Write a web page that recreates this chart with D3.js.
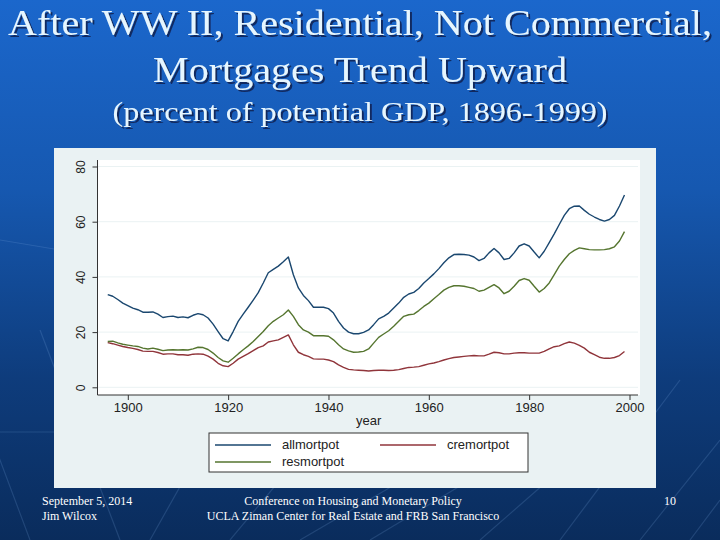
<!DOCTYPE html>
<html>
<head>
<meta charset="utf-8">
<script src="https://cdn.jsdelivr.net/npm/d3@7"></script>
<style>
  body { margin: 0; padding: 0; overflow: hidden; }
  svg { display: block; }
</style>
</head>
<body>
<div id="chart"></div>
<script>
// ---- data ----
var years = d3.range(1896, 2000);
var allmortpot = [33.6,33.0,31.8,30.5,29.6,28.7,28.1,27.2,27.2,27.3,26.5,25.3,25.6,25.8,25.3,25.5,25.2,26.1,26.7,26.3,
  25.1,22.9,20.2,17.6,16.8,20.2,23.9,26.5,29.0,31.6,34.3,37.8,41.5,42.7,43.9,45.5,47.2,40.8,36.0,33.3,
  31.4,29.0,29.0,29.0,28.5,26.9,23.9,21.5,20.0,19.4,19.4,19.9,20.8,22.7,24.8,25.7,26.9,28.7,30.5,32.6,
  33.8,34.4,35.8,37.8,39.4,41.1,43.0,45.1,46.9,48.1,48.2,48.1,47.9,47.2,45.9,46.7,48.7,50.3,48.7,46.3,
  46.7,48.7,51.2,52.0,51.2,49.0,46.9,49.3,52.4,55.6,59.0,62.3,64.7,65.6,65.7,64.1,62.7,61.7,60.8,60.2,
  60.8,62.3,65.7,69.7];
var cremortpot = [16.2,15.8,15.3,14.8,14.4,14.1,13.7,13.1,13.0,13.0,12.6,12.0,12.1,12.1,11.8,11.8,11.6,12.0,12.1,12.0,
  11.3,10.2,8.7,7.8,7.5,8.7,10.2,11.2,12.2,13.3,14.4,15.0,16.4,16.8,17.2,18.1,19.0,15.4,12.7,11.8,
  11.2,10.3,10.2,10.2,9.9,9.3,8.1,7.2,6.5,6.3,6.2,6.1,5.9,6.1,6.2,6.2,6.1,6.2,6.4,6.8,
  7.2,7.3,7.5,8.0,8.5,8.8,9.3,9.9,10.4,10.8,11.0,11.2,11.4,11.5,11.4,11.4,12.0,12.7,12.5,12.1,
  12.1,12.4,12.5,12.5,12.4,12.4,12.4,13.0,13.9,14.7,15.0,15.8,16.4,16.0,15.2,14.2,12.7,11.8,10.9,10.5,
  10.5,10.8,11.5,13.0];
var resmortpot = [16.6,16.7,16.1,15.6,15.3,15.0,14.8,14.2,13.9,14.2,13.8,13.3,13.5,13.6,13.5,13.6,13.5,13.9,14.5,14.4,
  13.7,12.4,10.8,9.6,9.1,10.5,12.1,13.6,15.0,16.6,18.4,20.2,22.3,23.9,25.1,26.3,28.0,25.7,22.7,20.8,
  20.0,18.7,18.7,18.7,18.5,17.2,15.4,13.9,13.2,12.7,12.8,13.0,13.9,16.0,18.1,19.3,20.5,22.1,23.9,25.7,
  26.3,26.5,27.8,29.3,30.5,32.1,33.6,35.2,36.2,36.8,36.8,36.6,36.2,35.8,34.8,35.2,36.2,37.2,36.0,33.9,
  34.8,36.6,38.7,39.4,38.8,36.6,34.5,35.8,37.8,40.8,43.9,46.3,48.4,49.6,50.5,50.2,49.9,49.8,49.8,49.9,
  50.2,50.9,53.0,56.4];
var seriesNames = ["allmortpot", "cremortpot", "resmortpot"];
var xTicks = [1900, 1920, 1940, 1960, 1980, 2000];
var yTicks = [0, 20, 40, 60, 80];
var titleLines = ["After WW II, Residential, Not Commercial,", "Mortgages Trend Upward"];
var subtitle = "(percent of potential GDP, 1896-1999)";
var footLeft = ["September 5, 2014", "Jim Wilcox"];
var footCenter = ["Conference on Housing and Monetary Policy", "UCLA Ziman Center for Real Estate and  FRB San Francisco"];
var pageNumber = "10";

var colors = {allmortpot: "#1a476f", cremortpot: "#90353b", resmortpot: "#55752f"};
var seriesData = {allmortpot: allmortpot, cremortpot: cremortpot, resmortpot: resmortpot};

var W = 720, H = 540;
var svg = d3.select("#chart").append("svg")
  .attr("width", W).attr("height", H);

// slide background
var defs = svg.append("defs");
var grad = defs.append("linearGradient").attr("id", "bg")
  .attr("x1", 0).attr("y1", 0).attr("x2", 0).attr("y2", 1);
grad.append("stop").attr("offset", "0%").attr("stop-color", "#1b67cc");
grad.append("stop").attr("offset", "35%").attr("stop-color", "#1658b0");
grad.append("stop").attr("offset", "70%").attr("stop-color", "#0e3c7c");
grad.append("stop").attr("offset", "100%").attr("stop-color", "#0a2c5c");
svg.append("rect").attr("width", W).attr("height", H).attr("fill", "url(#bg)");

var shadow = defs.append("filter").attr("id", "shadow")
  .attr("x", "-5%").attr("y", "-20%").attr("width", "110%").attr("height", "150%");
shadow.append("feDropShadow").attr("dx", 2).attr("dy", 2).attr("stdDeviation", 0.6)
  .attr("flood-color", "#0a2450").attr("flood-opacity", 0.85);

// faint diagonal streaks
var streaks = [[30,540,-60,300],[120,540,40,330],[150,540,240,380],[230,540,330,420],[300,540,420,470],
  [370,540,470,480],[480,540,560,470],[560,540,680,380],[640,540,720,440],[690,540,720,500],[0,432,60,432],[0,240,60,250]];
svg.append("g").selectAll("line").data(streaks).enter().append("line")
  .attr("x1", function(d){ return d[0]; }).attr("y1", function(d){ return d[1]; })
  .attr("x2", function(d){ return d[2]; }).attr("y2", function(d){ return d[3]; })
  .attr("stroke", "#7fa8e0").attr("stroke-opacity", 0.2).attr("stroke-width", 1.2);

// titles (the slide text is a little stretched horizontally)
var titleG = svg.append("g")
  .attr("font-family", "'Liberation Serif', 'Times New Roman', serif")
  .attr("text-anchor", "middle")
  .attr("fill", "#e6f6ff")
  .attr("filter", "url(#shadow)");
var titleWidths = [704, 414];
titleLines.forEach(function(t, i) {
  titleG.append("text").attr("x", 360).attr("y", 35 + i * 47)
    .attr("font-size", 36)
    .attr("textLength", titleWidths[i]).attr("lengthAdjust", "spacingAndGlyphs")
    .text(t);
});
titleG.append("text").attr("x", 360).attr("y", 121)
  .attr("font-size", 27)
  .attr("textLength", 495).attr("lengthAdjust", "spacingAndGlyphs")
  .text(subtitle);

// chart panel
var panel = {left: 54, top: 148, right: 656, bottom: 488};
svg.append("rect")
  .attr("x", panel.left).attr("y", panel.top)
  .attr("width", panel.right - panel.left).attr("height", panel.bottom - panel.top)
  .attr("fill", "#eaf2f3");

var plot = {left: 97.5, right: 640, top: 160, bottom: 395};
svg.append("rect")
  .attr("x", plot.left).attr("y", plot.top)
  .attr("width", plot.right - plot.left).attr("height", plot.bottom - plot.top)
  .attr("fill", "#ffffff");

var x = d3.scaleLinear().domain([1900, 2000]).range([127.8, 629.5]);
var y = d3.scaleLinear().domain([0, 80]).range([387.3, 166.5]);

// gridlines
svg.append("g").selectAll("line").data(yTicks).enter().append("line")
  .attr("x1", plot.left).attr("x2", plot.right - 2)
  .attr("y1", function(d){ return y(d); }).attr("y2", function(d){ return y(d); })
  .attr("stroke", "#eaf2f3").attr("stroke-width", 1);

// series lines
var line = d3.line()
  .x(function(d, i){ return x(years[i]); })
  .y(function(d){ return y(d); });
var drawOrder = ["cremortpot", "resmortpot", "allmortpot"];
svg.append("g").selectAll("path").data(drawOrder).enter().append("path")
  .attr("d", function(k){ return line(seriesData[k]); })
  .attr("fill", "none")
  .attr("stroke", function(k){ return colors[k]; })
  .attr("stroke-width", 1.4)
  .attr("stroke-linejoin", "round");

// axes
var yAxis = d3.axisLeft(y).tickValues(yTicks).tickSize(5).tickPadding(4).tickFormat(d3.format("d"));
var yg = svg.append("g").attr("transform", "translate(" + plot.left + ",0)").call(yAxis);
yg.select(".domain").attr("d", "M0," + plot.top + "V" + plot.bottom).attr("stroke", "#333");
yg.selectAll(".tick line").attr("stroke", "#333");
yg.selectAll(".tick text")
  .attr("transform", "translate(-17,0) rotate(-90)")
  .attr("x", 0).attr("dy", "0.35em")
  .attr("text-anchor", "middle")
  .attr("font-family", "'Liberation Sans', Arial, sans-serif")
  .attr("font-size", 12).attr("fill", "#222");

var xAxis = d3.axisBottom(x).tickValues(xTicks).tickSize(5).tickPadding(3).tickFormat(d3.format("d"));
var xg = svg.append("g").attr("transform", "translate(0," + plot.bottom + ")").call(xAxis);
xg.select(".domain").attr("d", "M" + plot.left + ",0H" + (plot.right - 2)).attr("stroke", "#333");
xg.selectAll(".tick line").attr("stroke", "#333");
xg.selectAll(".tick text")
  .attr("font-family", "'Liberation Sans', Arial, sans-serif")
  .attr("font-size", 13).attr("fill", "#222");

svg.append("text")
  .attr("x", (plot.left + plot.right) / 2).attr("y", 425)
  .attr("text-anchor", "middle")
  .attr("font-family", "'Liberation Sans', Arial, sans-serif")
  .attr("font-size", 13).attr("fill", "#222")
  .text("year");

// legend
var legend = svg.append("g");
legend.append("rect")
  .attr("x", 209).attr("y", 433).attr("width", 319).attr("height", 39)
  .attr("fill", "#ffffff").attr("stroke", "#333").attr("stroke-width", 1);
var legPos = [[215, 445], [380, 445], [215, 462]];
var legItems = legend.selectAll("g.item").data(seriesNames).enter().append("g")
  .attr("class", "item")
  .attr("transform", function(d, i){ return "translate(" + legPos[i][0] + "," + legPos[i][1] + ")"; });
legItems.append("line")
  .attr("x1", 0).attr("x2", 56).attr("y1", 0).attr("y2", 0)
  .attr("stroke", function(d){ return colors[d]; }).attr("stroke-width", 1.6);
legItems.append("text")
  .attr("x", 67).attr("y", 0).attr("dy", "0.32em")
  .attr("font-family", "'Liberation Sans', Arial, sans-serif")
  .attr("font-size", 13).attr("fill", "#222")
  .text(function(d){ return d; });

// footer
var foot = svg.append("g")
  .attr("font-family", "'Liberation Serif', 'Times New Roman', serif")
  .attr("font-size", 12).attr("fill", "#ffffff")
  .style("white-space", "pre");
foot.selectAll("text.l").data(footLeft).enter().append("text").attr("class", "l")
  .attr("x", 42).attr("y", function(d, i){ return 505 + i * 15; })
  .text(function(d){ return d; });
foot.selectAll("text.c").data(footCenter).enter().append("text").attr("class", "c")
  .attr("x", 353).attr("y", function(d, i){ return 505 + i * 15; })
  .attr("text-anchor", "middle")
  .text(function(d){ return d; });
foot.append("text").attr("x", 670).attr("y", 505).attr("text-anchor", "middle").text(pageNumber);
</script>
</body>
</html>
